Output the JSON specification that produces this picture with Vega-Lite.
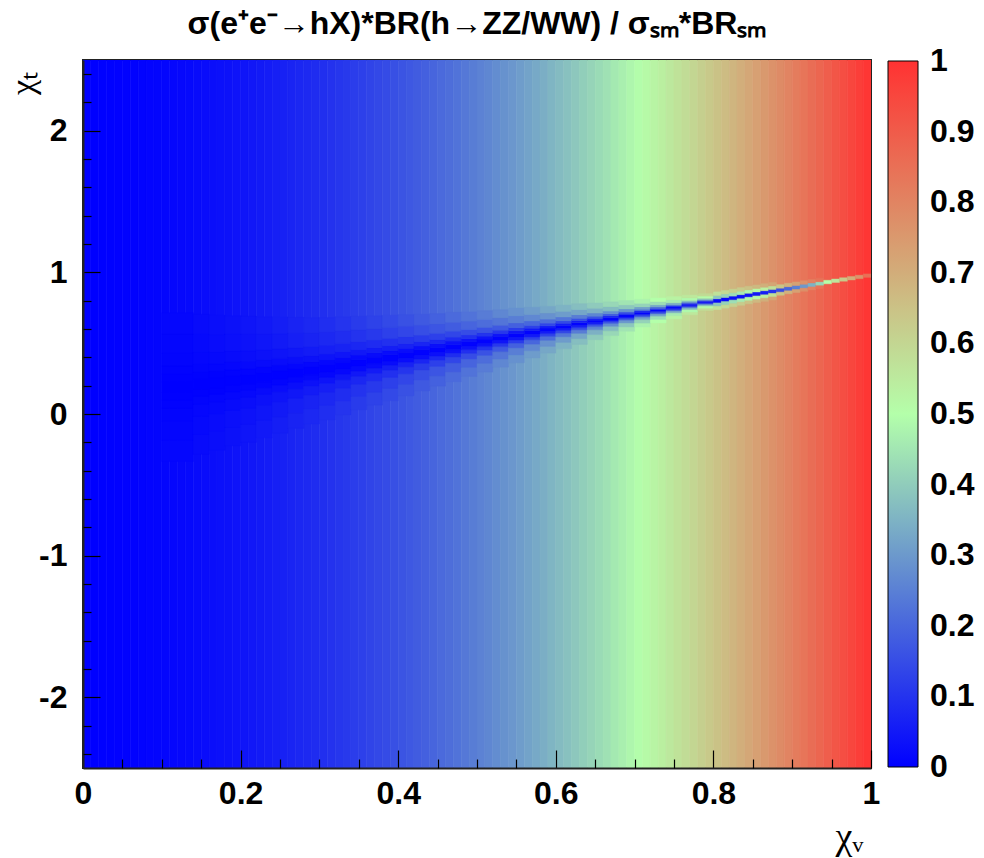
{
"$schema": "https://vega.github.io/schema/vega-lite/v6.json",
"width": 788, "height": 708,
"autosize": {"type": "none"},
"padding": {"left": 83, "top": 60, "right": 113, "bottom": 90},
"background": "white",
"title": {"text": "σ(e⁺e⁻→hX)*BR(h→ZZ/WW) / σₛₘ*BRₛₘ", "font": "Liberation Sans", "fontWeight": "bold", "fontSize": 32, "color": "black", "anchor": "middle", "frame": "group", "baseline": "alphabetic", "offset": 17, "dy": 23},
"datasets": {
"bg": [
{"x0":0.00,"x1":0.01,"v":0.000},{"x0":0.01,"x1":0.02,"v":0.000},{"x0":0.02,"x1":0.03,"v":0.001},{"x0":0.03,"x1":0.04,"v":0.001},{"x0":0.04,"x1":0.05,"v":0.002},
{"x0":0.05,"x1":0.06,"v":0.003},{"x0":0.06,"x1":0.07,"v":0.004},{"x0":0.07,"x1":0.08,"v":0.006},{"x0":0.08,"x1":0.09,"v":0.007},{"x0":0.09,"x1":0.10,"v":0.009},
{"x0":0.10,"x1":0.11,"v":0.011},{"x0":0.11,"x1":0.12,"v":0.013},{"x0":0.12,"x1":0.13,"v":0.016},{"x0":0.13,"x1":0.14,"v":0.018},{"x0":0.14,"x1":0.15,"v":0.021},
{"x0":0.15,"x1":0.16,"v":0.024},{"x0":0.16,"x1":0.17,"v":0.027},{"x0":0.17,"x1":0.18,"v":0.031},{"x0":0.18,"x1":0.19,"v":0.034},{"x0":0.19,"x1":0.20,"v":0.038},
{"x0":0.20,"x1":0.21,"v":0.042},{"x0":0.21,"x1":0.22,"v":0.046},{"x0":0.22,"x1":0.23,"v":0.051},{"x0":0.23,"x1":0.24,"v":0.055},{"x0":0.24,"x1":0.25,"v":0.060},
{"x0":0.25,"x1":0.26,"v":0.065},{"x0":0.26,"x1":0.27,"v":0.070},{"x0":0.27,"x1":0.28,"v":0.076},{"x0":0.28,"x1":0.29,"v":0.081},{"x0":0.29,"x1":0.30,"v":0.087},
{"x0":0.30,"x1":0.31,"v":0.093},{"x0":0.31,"x1":0.32,"v":0.099},{"x0":0.32,"x1":0.33,"v":0.106},{"x0":0.33,"x1":0.34,"v":0.112},{"x0":0.34,"x1":0.35,"v":0.119},
{"x0":0.35,"x1":0.36,"v":0.126},{"x0":0.36,"x1":0.37,"v":0.133},{"x0":0.37,"x1":0.38,"v":0.141},{"x0":0.38,"x1":0.39,"v":0.148},{"x0":0.39,"x1":0.40,"v":0.156},
{"x0":0.40,"x1":0.41,"v":0.164},{"x0":0.41,"x1":0.42,"v":0.172},{"x0":0.42,"x1":0.43,"v":0.181},{"x0":0.43,"x1":0.44,"v":0.189},{"x0":0.44,"x1":0.45,"v":0.198},
{"x0":0.45,"x1":0.46,"v":0.207},{"x0":0.46,"x1":0.47,"v":0.216},{"x0":0.47,"x1":0.48,"v":0.226},{"x0":0.48,"x1":0.49,"v":0.235},{"x0":0.49,"x1":0.50,"v":0.245},
{"x0":0.50,"x1":0.51,"v":0.255},{"x0":0.51,"x1":0.52,"v":0.265},{"x0":0.52,"x1":0.53,"v":0.276},{"x0":0.53,"x1":0.54,"v":0.286},{"x0":0.54,"x1":0.55,"v":0.297},
{"x0":0.55,"x1":0.56,"v":0.308},{"x0":0.56,"x1":0.57,"v":0.319},{"x0":0.57,"x1":0.58,"v":0.331},{"x0":0.58,"x1":0.59,"v":0.342},{"x0":0.59,"x1":0.60,"v":0.354},
{"x0":0.60,"x1":0.61,"v":0.366},{"x0":0.61,"x1":0.62,"v":0.378},{"x0":0.62,"x1":0.63,"v":0.391},{"x0":0.63,"x1":0.64,"v":0.403},{"x0":0.64,"x1":0.65,"v":0.416},
{"x0":0.65,"x1":0.66,"v":0.429},{"x0":0.66,"x1":0.67,"v":0.442},{"x0":0.67,"x1":0.68,"v":0.456},{"x0":0.68,"x1":0.69,"v":0.469},{"x0":0.69,"x1":0.70,"v":0.483},
{"x0":0.70,"x1":0.71,"v":0.497},{"x0":0.71,"x1":0.72,"v":0.511},{"x0":0.72,"x1":0.73,"v":0.526},{"x0":0.73,"x1":0.74,"v":0.540},{"x0":0.74,"x1":0.75,"v":0.555},
{"x0":0.75,"x1":0.76,"v":0.570},{"x0":0.76,"x1":0.77,"v":0.585},{"x0":0.77,"x1":0.78,"v":0.601},{"x0":0.78,"x1":0.79,"v":0.616},{"x0":0.79,"x1":0.80,"v":0.632},
{"x0":0.80,"x1":0.81,"v":0.648},{"x0":0.81,"x1":0.82,"v":0.664},{"x0":0.82,"x1":0.83,"v":0.681},{"x0":0.83,"x1":0.84,"v":0.697},{"x0":0.84,"x1":0.85,"v":0.714},
{"x0":0.85,"x1":0.86,"v":0.731},{"x0":0.86,"x1":0.87,"v":0.748},{"x0":0.87,"x1":0.88,"v":0.766},{"x0":0.88,"x1":0.89,"v":0.783},{"x0":0.89,"x1":0.90,"v":0.801},
{"x0":0.90,"x1":0.91,"v":0.819},{"x0":0.91,"x1":0.92,"v":0.837},{"x0":0.92,"x1":0.93,"v":0.856},{"x0":0.93,"x1":0.94,"v":0.874},{"x0":0.94,"x1":0.95,"v":0.893},
{"x0":0.95,"x1":0.96,"v":0.912},{"x0":0.96,"x1":0.97,"v":0.931},{"x0":0.97,"x1":0.98,"v":0.951},{"x0":0.98,"x1":0.99,"v":0.970},{"x0":0.99,"x1":1.00,"v":0.990}
],
"band": [
{"x0":0.10,"x1":0.14,"y0":-0.335,"y1":-0.185,"v":0.0135},{"x0":0.10,"x1":0.14,"y0":-0.185,"y1":-0.05,"v":0.0118},{"x0":0.10,"x1":0.14,"y0":-0.05,"y1":0.04,"v":0.0089},{"x0":0.10,"x1":0.14,"y0":0.04,"y1":0.1,"v":0.0056},{"x0":0.10,"x1":0.14,"y0":0.1,"y1":0.152,"v":0.0022},{"x0":0.10,"x1":0.14,"y0":0.152,"y1":0.228,"v":0.0003},{"x0":0.10,"x1":0.14,"y0":0.228,"y1":0.28,"v":0.0022},{"x0":0.10,"x1":0.14,"y0":0.28,"y1":0.34,"v":0.0056},{"x0":0.10,"x1":0.14,"y0":0.34,"y1":0.43,"v":0.0089},{"x0":0.10,"x1":0.14,"y0":0.43,"y1":0.565,"v":0.0118},{"x0":0.10,"x1":0.14,"y0":0.565,"y1":0.715,"v":0.0135},
{"x0":0.14,"x1":0.16,"y0":-0.284,"y1":-0.143,"v":0.021},{"x0":0.14,"x1":0.16,"y0":-0.143,"y1":-0.016,"v":0.018},{"x0":0.14,"x1":0.16,"y0":-0.016,"y1":0.069,"v":0.014},{"x0":0.14,"x1":0.16,"y0":0.069,"y1":0.125,"v":0.009},{"x0":0.14,"x1":0.16,"y0":0.125,"y1":0.175,"v":0.003},{"x0":0.14,"x1":0.16,"y0":0.175,"y1":0.245,"v":0.0},{"x0":0.14,"x1":0.16,"y0":0.245,"y1":0.295,"v":0.003},{"x0":0.14,"x1":0.16,"y0":0.295,"y1":0.351,"v":0.009},{"x0":0.14,"x1":0.16,"y0":0.351,"y1":0.436,"v":0.014},{"x0":0.14,"x1":0.16,"y0":0.436,"y1":0.563,"v":0.018},{"x0":0.14,"x1":0.16,"y0":0.563,"y1":0.704,"v":0.021},
{"x0":0.16,"x1":0.18,"y0":-0.256,"y1":-0.12,"v":0.027},{"x0":0.16,"x1":0.18,"y0":-0.12,"y1":0.002,"v":0.024},{"x0":0.16,"x1":0.18,"y0":0.002,"y1":0.084,"v":0.018},{"x0":0.16,"x1":0.18,"y0":0.084,"y1":0.138,"v":0.011},{"x0":0.16,"x1":0.18,"y0":0.138,"y1":0.186,"v":0.004},{"x0":0.16,"x1":0.18,"y0":0.186,"y1":0.254,"v":0.001},{"x0":0.16,"x1":0.18,"y0":0.254,"y1":0.302,"v":0.004},{"x0":0.16,"x1":0.18,"y0":0.302,"y1":0.356,"v":0.011},{"x0":0.16,"x1":0.18,"y0":0.356,"y1":0.438,"v":0.018},{"x0":0.16,"x1":0.18,"y0":0.438,"y1":0.56,"v":0.024},{"x0":0.16,"x1":0.18,"y0":0.56,"y1":0.696,"v":0.027},
{"x0":0.18,"x1":0.20,"y0":-0.224,"y1":-0.093,"v":0.034},{"x0":0.18,"x1":0.20,"y0":-0.093,"y1":0.025,"v":0.030},{"x0":0.18,"x1":0.20,"y0":0.025,"y1":0.104,"v":0.022},{"x0":0.18,"x1":0.20,"y0":0.104,"y1":0.156,"v":0.014},{"x0":0.18,"x1":0.20,"y0":0.156,"y1":0.202,"v":0.005},{"x0":0.18,"x1":0.20,"y0":0.202,"y1":0.268,"v":0.001},{"x0":0.18,"x1":0.20,"y0":0.268,"y1":0.314,"v":0.005},{"x0":0.18,"x1":0.20,"y0":0.314,"y1":0.366,"v":0.014},{"x0":0.18,"x1":0.20,"y0":0.366,"y1":0.445,"v":0.022},{"x0":0.18,"x1":0.20,"y0":0.445,"y1":0.563,"v":0.030},{"x0":0.18,"x1":0.20,"y0":0.563,"y1":0.694,"v":0.034},
{"x0":0.20,"x1":0.22,"y0":-0.2,"y1":-0.073,"v":0.041},{"x0":0.20,"x1":0.22,"y0":-0.073,"y1":0.042,"v":0.036},{"x0":0.20,"x1":0.22,"y0":0.042,"y1":0.118,"v":0.027},{"x0":0.20,"x1":0.22,"y0":0.118,"y1":0.169,"v":0.017},{"x0":0.20,"x1":0.22,"y0":0.169,"y1":0.213,"v":0.007},{"x0":0.20,"x1":0.22,"y0":0.213,"y1":0.277,"v":0.001},{"x0":0.20,"x1":0.22,"y0":0.277,"y1":0.321,"v":0.007},{"x0":0.20,"x1":0.22,"y0":0.321,"y1":0.372,"v":0.017},{"x0":0.20,"x1":0.22,"y0":0.372,"y1":0.448,"v":0.027},{"x0":0.20,"x1":0.22,"y0":0.448,"y1":0.563,"v":0.036},{"x0":0.20,"x1":0.22,"y0":0.563,"y1":0.69,"v":0.041},
{"x0":0.22,"x1":0.24,"y0":-0.167,"y1":-0.045,"v":0.050},{"x0":0.22,"x1":0.24,"y0":-0.045,"y1":0.065,"v":0.043},{"x0":0.22,"x1":0.24,"y0":0.065,"y1":0.138,"v":0.033},{"x0":0.22,"x1":0.24,"y0":0.138,"y1":0.187,"v":0.021},{"x0":0.22,"x1":0.24,"y0":0.187,"y1":0.229,"v":0.008},{"x0":0.22,"x1":0.24,"y0":0.229,"y1":0.291,"v":0.001},{"x0":0.22,"x1":0.24,"y0":0.291,"y1":0.333,"v":0.008},{"x0":0.22,"x1":0.24,"y0":0.333,"y1":0.382,"v":0.021},{"x0":0.22,"x1":0.24,"y0":0.382,"y1":0.455,"v":0.033},{"x0":0.22,"x1":0.24,"y0":0.455,"y1":0.565,"v":0.043},{"x0":0.22,"x1":0.24,"y0":0.565,"y1":0.687,"v":0.050},
{"x0":0.24,"x1":0.26,"y0":-0.135,"y1":-0.018,"v":0.059},{"x0":0.24,"x1":0.26,"y0":-0.018,"y1":0.088,"v":0.051},{"x0":0.24,"x1":0.26,"y0":0.088,"y1":0.158,"v":0.039},{"x0":0.24,"x1":0.26,"y0":0.158,"y1":0.205,"v":0.024},{"x0":0.24,"x1":0.26,"y0":0.205,"y1":0.246,"v":0.009},{"x0":0.24,"x1":0.26,"y0":0.246,"y1":0.304,"v":0.001},{"x0":0.24,"x1":0.26,"y0":0.304,"y1":0.345,"v":0.009},{"x0":0.24,"x1":0.26,"y0":0.345,"y1":0.392,"v":0.024},{"x0":0.24,"x1":0.26,"y0":0.392,"y1":0.462,"v":0.039},{"x0":0.24,"x1":0.26,"y0":0.462,"y1":0.568,"v":0.051},{"x0":0.24,"x1":0.26,"y0":0.568,"y1":0.685,"v":0.059},
{"x0":0.26,"x1":0.28,"y0":-0.102,"y1":0.01,"v":0.069},{"x0":0.26,"x1":0.28,"y0":0.01,"y1":0.111,"v":0.060},{"x0":0.26,"x1":0.28,"y0":0.111,"y1":0.178,"v":0.045},{"x0":0.26,"x1":0.28,"y0":0.178,"y1":0.223,"v":0.028},{"x0":0.26,"x1":0.28,"y0":0.223,"y1":0.262,"v":0.011},{"x0":0.26,"x1":0.28,"y0":0.262,"y1":0.318,"v":0.001},{"x0":0.26,"x1":0.28,"y0":0.318,"y1":0.357,"v":0.011},{"x0":0.26,"x1":0.28,"y0":0.357,"y1":0.402,"v":0.028},{"x0":0.26,"x1":0.28,"y0":0.402,"y1":0.469,"v":0.045},{"x0":0.26,"x1":0.28,"y0":0.469,"y1":0.57,"v":0.060},{"x0":0.26,"x1":0.28,"y0":0.57,"y1":0.682,"v":0.069},
{"x0":0.28,"x1":0.30,"y0":-0.07,"y1":0.037,"v":0.079},{"x0":0.28,"x1":0.30,"y0":0.037,"y1":0.134,"v":0.069},{"x0":0.28,"x1":0.30,"y0":0.134,"y1":0.198,"v":0.052},{"x0":0.28,"x1":0.30,"y0":0.198,"y1":0.241,"v":0.033},{"x0":0.28,"x1":0.30,"y0":0.241,"y1":0.278,"v":0.013},{"x0":0.28,"x1":0.30,"y0":0.278,"y1":0.332,"v":0.002},{"x0":0.28,"x1":0.30,"y0":0.332,"y1":0.369,"v":0.013},{"x0":0.28,"x1":0.30,"y0":0.369,"y1":0.412,"v":0.033},{"x0":0.28,"x1":0.30,"y0":0.412,"y1":0.476,"v":0.052},{"x0":0.28,"x1":0.30,"y0":0.476,"y1":0.573,"v":0.069},{"x0":0.28,"x1":0.30,"y0":0.573,"y1":0.68,"v":0.079},
{"x0":0.30,"x1":0.32,"y0":-0.041,"y1":0.062,"v":0.090},{"x0":0.30,"x1":0.32,"y0":0.062,"y1":0.155,"v":0.079},{"x0":0.30,"x1":0.32,"y0":0.155,"y1":0.217,"v":0.060},{"x0":0.30,"x1":0.32,"y0":0.217,"y1":0.258,"v":0.037},{"x0":0.30,"x1":0.32,"y0":0.258,"y1":0.294,"v":0.014},{"x0":0.30,"x1":0.32,"y0":0.294,"y1":0.346,"v":0.002},{"x0":0.30,"x1":0.32,"y0":0.346,"y1":0.382,"v":0.014},{"x0":0.30,"x1":0.32,"y0":0.382,"y1":0.423,"v":0.037},{"x0":0.30,"x1":0.32,"y0":0.423,"y1":0.485,"v":0.060},{"x0":0.30,"x1":0.32,"y0":0.485,"y1":0.578,"v":0.079},{"x0":0.30,"x1":0.32,"y0":0.578,"y1":0.681,"v":0.090},
{"x0":0.32,"x1":0.34,"y0":-0.007,"y1":0.092,"v":0.102},{"x0":0.32,"x1":0.34,"y0":0.092,"y1":0.182,"v":0.089},{"x0":0.32,"x1":0.34,"y0":0.182,"y1":0.241,"v":0.068},{"x0":0.32,"x1":0.34,"y0":0.241,"y1":0.281,"v":0.042},{"x0":0.32,"x1":0.34,"y0":0.281,"y1":0.315,"v":0.016},{"x0":0.32,"x1":0.34,"y0":0.315,"y1":0.365,"v":0.002},{"x0":0.32,"x1":0.34,"y0":0.365,"y1":0.399,"v":0.016},{"x0":0.32,"x1":0.34,"y0":0.399,"y1":0.439,"v":0.042},{"x0":0.32,"x1":0.34,"y0":0.439,"y1":0.498,"v":0.068},{"x0":0.32,"x1":0.34,"y0":0.498,"y1":0.588,"v":0.089},{"x0":0.32,"x1":0.34,"y0":0.588,"y1":0.687,"v":0.102},
{"x0":0.34,"x1":0.36,"y0":0.031,"y1":0.125,"v":0.115},{"x0":0.34,"x1":0.36,"y0":0.125,"y1":0.21,"v":0.100},{"x0":0.34,"x1":0.36,"y0":0.21,"y1":0.266,"v":0.076},{"x0":0.34,"x1":0.36,"y0":0.266,"y1":0.304,"v":0.048},{"x0":0.34,"x1":0.36,"y0":0.304,"y1":0.336,"v":0.018},{"x0":0.34,"x1":0.36,"y0":0.336,"y1":0.384,"v":0.002},{"x0":0.34,"x1":0.36,"y0":0.384,"y1":0.416,"v":0.018},{"x0":0.34,"x1":0.36,"y0":0.416,"y1":0.454,"v":0.048},{"x0":0.34,"x1":0.36,"y0":0.454,"y1":0.51,"v":0.076},{"x0":0.34,"x1":0.36,"y0":0.51,"y1":0.595,"v":0.100},{"x0":0.34,"x1":0.36,"y0":0.595,"y1":0.689,"v":0.115},
{"x0":0.36,"x1":0.38,"y0":0.063,"y1":0.153,"v":0.129},{"x0":0.36,"x1":0.38,"y0":0.153,"y1":0.234,"v":0.112},{"x0":0.36,"x1":0.38,"y0":0.234,"y1":0.288,"v":0.085},{"x0":0.36,"x1":0.38,"y0":0.288,"y1":0.324,"v":0.053},{"x0":0.36,"x1":0.38,"y0":0.324,"y1":0.355,"v":0.021},{"x0":0.36,"x1":0.38,"y0":0.355,"y1":0.401,"v":0.003},{"x0":0.36,"x1":0.38,"y0":0.401,"y1":0.432,"v":0.021},{"x0":0.36,"x1":0.38,"y0":0.432,"y1":0.468,"v":0.053},{"x0":0.36,"x1":0.38,"y0":0.468,"y1":0.522,"v":0.085},{"x0":0.36,"x1":0.38,"y0":0.522,"y1":0.603,"v":0.112},{"x0":0.36,"x1":0.38,"y0":0.603,"y1":0.693,"v":0.129},
{"x0":0.38,"x1":0.40,"y0":0.095,"y1":0.181,"v":0.143},{"x0":0.38,"x1":0.40,"y0":0.181,"y1":0.258,"v":0.125},{"x0":0.38,"x1":0.40,"y0":0.258,"y1":0.31,"v":0.094},{"x0":0.38,"x1":0.40,"y0":0.31,"y1":0.344,"v":0.059},{"x0":0.38,"x1":0.40,"y0":0.344,"y1":0.374,"v":0.023},{"x0":0.38,"x1":0.40,"y0":0.374,"y1":0.418,"v":0.003},{"x0":0.38,"x1":0.40,"y0":0.418,"y1":0.448,"v":0.023},{"x0":0.38,"x1":0.40,"y0":0.448,"y1":0.482,"v":0.059},{"x0":0.38,"x1":0.40,"y0":0.482,"y1":0.534,"v":0.094},{"x0":0.38,"x1":0.40,"y0":0.534,"y1":0.611,"v":0.125},{"x0":0.38,"x1":0.40,"y0":0.611,"y1":0.697,"v":0.143},
{"x0":0.40,"x1":0.42,"y0":0.128,"y1":0.21,"v":0.158},{"x0":0.40,"x1":0.42,"y0":0.21,"y1":0.284,"v":0.138},{"x0":0.40,"x1":0.42,"y0":0.284,"y1":0.333,"v":0.104},{"x0":0.40,"x1":0.42,"y0":0.333,"y1":0.366,"v":0.066},{"x0":0.40,"x1":0.42,"y0":0.366,"y1":0.394,"v":0.025},{"x0":0.40,"x1":0.42,"y0":0.394,"y1":0.436,"v":0.003},{"x0":0.40,"x1":0.42,"y0":0.436,"y1":0.464,"v":0.025},{"x0":0.40,"x1":0.42,"y0":0.464,"y1":0.497,"v":0.066},{"x0":0.40,"x1":0.42,"y0":0.497,"y1":0.546,"v":0.104},{"x0":0.40,"x1":0.42,"y0":0.546,"y1":0.62,"v":0.138},{"x0":0.40,"x1":0.42,"y0":0.62,"y1":0.702,"v":0.158},
{"x0":0.42,"x1":0.44,"y0":0.164,"y1":0.241,"v":0.174},{"x0":0.42,"x1":0.44,"y0":0.241,"y1":0.311,"v":0.152},{"x0":0.42,"x1":0.44,"y0":0.311,"y1":0.357,"v":0.115},{"x0":0.42,"x1":0.44,"y0":0.357,"y1":0.388,"v":0.072},{"x0":0.42,"x1":0.44,"y0":0.388,"y1":0.415,"v":0.028},{"x0":0.42,"x1":0.44,"y0":0.415,"y1":0.453,"v":0.004},{"x0":0.42,"x1":0.44,"y0":0.453,"y1":0.48,"v":0.028},{"x0":0.42,"x1":0.44,"y0":0.48,"y1":0.511,"v":0.072},{"x0":0.42,"x1":0.44,"y0":0.511,"y1":0.557,"v":0.115},{"x0":0.42,"x1":0.44,"y0":0.557,"y1":0.627,"v":0.152},{"x0":0.42,"x1":0.44,"y0":0.627,"y1":0.704,"v":0.174},
{"x0":0.44,"x1":0.46,"y0":0.197,"y1":0.27,"v":0.190},{"x0":0.44,"x1":0.46,"y0":0.27,"y1":0.336,"v":0.166},{"x0":0.44,"x1":0.46,"y0":0.336,"y1":0.38,"v":0.126},{"x0":0.44,"x1":0.46,"y0":0.38,"y1":0.409,"v":0.079},{"x0":0.44,"x1":0.46,"y0":0.409,"y1":0.435,"v":0.030},{"x0":0.44,"x1":0.46,"y0":0.435,"y1":0.471,"v":0.004},{"x0":0.44,"x1":0.46,"y0":0.471,"y1":0.497,"v":0.030},{"x0":0.44,"x1":0.46,"y0":0.497,"y1":0.526,"v":0.079},{"x0":0.44,"x1":0.46,"y0":0.526,"y1":0.57,"v":0.126},{"x0":0.44,"x1":0.46,"y0":0.57,"y1":0.636,"v":0.166},{"x0":0.44,"x1":0.46,"y0":0.636,"y1":0.709,"v":0.190},
{"x0":0.46,"x1":0.48,"y0":0.228,"y1":0.298,"v":0.208},{"x0":0.46,"x1":0.48,"y0":0.298,"y1":0.361,"v":0.181},{"x0":0.46,"x1":0.48,"y0":0.361,"y1":0.403,"v":0.137},{"x0":0.46,"x1":0.48,"y0":0.403,"y1":0.431,"v":0.086},{"x0":0.46,"x1":0.48,"y0":0.431,"y1":0.455,"v":0.033},{"x0":0.46,"x1":0.48,"y0":0.455,"y1":0.491,"v":0.004},{"x0":0.46,"x1":0.48,"y0":0.491,"y1":0.515,"v":0.033},{"x0":0.46,"x1":0.48,"y0":0.515,"y1":0.543,"v":0.086},{"x0":0.46,"x1":0.48,"y0":0.543,"y1":0.585,"v":0.137},{"x0":0.46,"x1":0.48,"y0":0.585,"y1":0.648,"v":0.181},{"x0":0.46,"x1":0.48,"y0":0.648,"y1":0.718,"v":0.208},
{"x0":0.48,"x1":0.50,"y0":0.265,"y1":0.33,"v":0.226},{"x0":0.48,"x1":0.50,"y0":0.33,"y1":0.389,"v":0.197},{"x0":0.48,"x1":0.50,"y0":0.389,"y1":0.428,"v":0.149},{"x0":0.48,"x1":0.50,"y0":0.428,"y1":0.454,"v":0.094},{"x0":0.48,"x1":0.50,"y0":0.454,"y1":0.477,"v":0.036},{"x0":0.48,"x1":0.50,"y0":0.477,"y1":0.509,"v":0.005},{"x0":0.48,"x1":0.50,"y0":0.509,"y1":0.532,"v":0.036},{"x0":0.48,"x1":0.50,"y0":0.532,"y1":0.558,"v":0.094},{"x0":0.48,"x1":0.50,"y0":0.558,"y1":0.597,"v":0.149},{"x0":0.48,"x1":0.50,"y0":0.597,"y1":0.656,"v":0.197},{"x0":0.48,"x1":0.50,"y0":0.656,"y1":0.721,"v":0.226},
{"x0":0.50,"x1":0.52,"y0":0.296,"y1":0.358,"v":0.244},{"x0":0.50,"x1":0.52,"y0":0.358,"y1":0.414,"v":0.213},{"x0":0.50,"x1":0.52,"y0":0.414,"y1":0.451,"v":0.161},{"x0":0.50,"x1":0.52,"y0":0.451,"y1":0.476,"v":0.101},{"x0":0.50,"x1":0.52,"y0":0.476,"y1":0.497,"v":0.039},{"x0":0.50,"x1":0.52,"y0":0.497,"y1":0.529,"v":0.005},{"x0":0.50,"x1":0.52,"y0":0.529,"y1":0.55,"v":0.039},{"x0":0.50,"x1":0.52,"y0":0.55,"y1":0.575,"v":0.101},{"x0":0.50,"x1":0.52,"y0":0.575,"y1":0.612,"v":0.161},{"x0":0.50,"x1":0.52,"y0":0.612,"y1":0.668,"v":0.213},{"x0":0.50,"x1":0.52,"y0":0.668,"y1":0.73,"v":0.244},
{"x0":0.52,"x1":0.54,"y0":0.331,"y1":0.389,"v":0.264},{"x0":0.52,"x1":0.54,"y0":0.389,"y1":0.441,"v":0.230},{"x0":0.52,"x1":0.54,"y0":0.441,"y1":0.476,"v":0.174},{"x0":0.52,"x1":0.54,"y0":0.476,"y1":0.499,"v":0.110},{"x0":0.52,"x1":0.54,"y0":0.499,"y1":0.519,"v":0.042},{"x0":0.52,"x1":0.54,"y0":0.519,"y1":0.549,"v":0.006},{"x0":0.52,"x1":0.54,"y0":0.549,"y1":0.569,"v":0.042},{"x0":0.52,"x1":0.54,"y0":0.569,"y1":0.592,"v":0.110},{"x0":0.52,"x1":0.54,"y0":0.592,"y1":0.627,"v":0.174},{"x0":0.52,"x1":0.54,"y0":0.627,"y1":0.679,"v":0.230},{"x0":0.52,"x1":0.54,"y0":0.679,"y1":0.737,"v":0.264},
{"x0":0.54,"x1":0.56,"y0":0.362,"y1":0.417,"v":0.284},{"x0":0.54,"x1":0.56,"y0":0.417,"y1":0.467,"v":0.248},{"x0":0.54,"x1":0.56,"y0":0.467,"y1":0.5,"v":0.188},{"x0":0.54,"x1":0.56,"y0":0.5,"y1":0.522,"v":0.118},{"x0":0.54,"x1":0.56,"y0":0.522,"y1":0.541,"v":0.045},{"x0":0.54,"x1":0.56,"y0":0.541,"y1":0.569,"v":0.006},{"x0":0.54,"x1":0.56,"y0":0.569,"y1":0.588,"v":0.045},{"x0":0.54,"x1":0.56,"y0":0.588,"y1":0.61,"v":0.118},{"x0":0.54,"x1":0.56,"y0":0.61,"y1":0.643,"v":0.188},{"x0":0.54,"x1":0.56,"y0":0.643,"y1":0.693,"v":0.248},{"x0":0.54,"x1":0.56,"y0":0.693,"y1":0.748,"v":0.284},
{"x0":0.56,"x1":0.58,"y0":0.396,"y1":0.447,"v":0.305},{"x0":0.56,"x1":0.58,"y0":0.447,"y1":0.493,"v":0.266},{"x0":0.56,"x1":0.58,"y0":0.493,"y1":0.524,"v":0.201},{"x0":0.56,"x1":0.58,"y0":0.524,"y1":0.544,"v":0.127},{"x0":0.56,"x1":0.58,"y0":0.544,"y1":0.562,"v":0.049},{"x0":0.56,"x1":0.58,"y0":0.562,"y1":0.588,"v":0.006},{"x0":0.56,"x1":0.58,"y0":0.588,"y1":0.606,"v":0.049},{"x0":0.56,"x1":0.58,"y0":0.606,"y1":0.626,"v":0.127},{"x0":0.56,"x1":0.58,"y0":0.626,"y1":0.657,"v":0.201},{"x0":0.56,"x1":0.58,"y0":0.657,"y1":0.703,"v":0.266},{"x0":0.56,"x1":0.58,"y0":0.703,"y1":0.754,"v":0.305},
{"x0":0.58,"x1":0.60,"y0":0.43,"y1":0.477,"v":0.327},{"x0":0.58,"x1":0.60,"y0":0.477,"y1":0.52,"v":0.285},{"x0":0.58,"x1":0.60,"y0":0.52,"y1":0.548,"v":0.216},{"x0":0.58,"x1":0.60,"y0":0.548,"y1":0.567,"v":0.136},{"x0":0.58,"x1":0.60,"y0":0.567,"y1":0.583,"v":0.052},{"x0":0.58,"x1":0.60,"y0":0.583,"y1":0.607,"v":0.007},{"x0":0.58,"x1":0.60,"y0":0.607,"y1":0.623,"v":0.052},{"x0":0.58,"x1":0.60,"y0":0.623,"y1":0.642,"v":0.136},{"x0":0.58,"x1":0.60,"y0":0.642,"y1":0.67,"v":0.216},{"x0":0.58,"x1":0.60,"y0":0.67,"y1":0.713,"v":0.285},{"x0":0.58,"x1":0.60,"y0":0.713,"y1":0.76,"v":0.327},
{"x0":0.60,"x1":0.62,"y0":0.461,"y1":0.505,"v":0.350},{"x0":0.60,"x1":0.62,"y0":0.505,"y1":0.545,"v":0.305},{"x0":0.60,"x1":0.62,"y0":0.545,"y1":0.571,"v":0.231},{"x0":0.60,"x1":0.62,"y0":0.571,"y1":0.589,"v":0.145},{"x0":0.60,"x1":0.62,"y0":0.589,"y1":0.604,"v":0.056},{"x0":0.60,"x1":0.62,"y0":0.604,"y1":0.626,"v":0.007},{"x0":0.60,"x1":0.62,"y0":0.626,"y1":0.641,"v":0.056},{"x0":0.60,"x1":0.62,"y0":0.641,"y1":0.659,"v":0.145},{"x0":0.60,"x1":0.62,"y0":0.659,"y1":0.685,"v":0.231},{"x0":0.60,"x1":0.62,"y0":0.685,"y1":0.725,"v":0.305},{"x0":0.60,"x1":0.62,"y0":0.725,"y1":0.769,"v":0.350},
{"x0":0.62,"x1":0.64,"y0":0.491,"y1":0.532,"v":0.373},{"x0":0.62,"x1":0.64,"y0":0.532,"y1":0.569,"v":0.325},{"x0":0.62,"x1":0.64,"y0":0.569,"y1":0.594,"v":0.246},{"x0":0.62,"x1":0.64,"y0":0.594,"y1":0.61,"v":0.155},{"x0":0.62,"x1":0.64,"y0":0.61,"y1":0.625,"v":0.060},{"x0":0.62,"x1":0.64,"y0":0.625,"y1":0.645,"v":0.008},{"x0":0.62,"x1":0.64,"y0":0.645,"y1":0.66,"v":0.060},{"x0":0.62,"x1":0.64,"y0":0.66,"y1":0.676,"v":0.155},{"x0":0.62,"x1":0.64,"y0":0.676,"y1":0.701,"v":0.246},{"x0":0.62,"x1":0.64,"y0":0.701,"y1":0.738,"v":0.325},{"x0":0.62,"x1":0.64,"y0":0.738,"y1":0.779,"v":0.373},
{"x0":0.64,"x1":0.66,"y0":0.524,"y1":0.561,"v":0.397},{"x0":0.64,"x1":0.66,"y0":0.561,"y1":0.595,"v":0.346},{"x0":0.64,"x1":0.66,"y0":0.595,"y1":0.617,"v":0.262},{"x0":0.64,"x1":0.66,"y0":0.617,"y1":0.632,"v":0.165},{"x0":0.64,"x1":0.66,"y0":0.632,"y1":0.645,"v":0.063},{"x0":0.64,"x1":0.66,"y0":0.645,"y1":0.663,"v":0.008},{"x0":0.64,"x1":0.66,"y0":0.663,"y1":0.676,"v":0.063},{"x0":0.64,"x1":0.66,"y0":0.676,"y1":0.691,"v":0.165},{"x0":0.64,"x1":0.66,"y0":0.691,"y1":0.713,"v":0.262},{"x0":0.64,"x1":0.66,"y0":0.713,"y1":0.747,"v":0.346},{"x0":0.64,"x1":0.66,"y0":0.747,"y1":0.784,"v":0.397},
{"x0":0.66,"x1":0.68,"y0":0.554,"y1":0.588,"v":0.422},{"x0":0.66,"x1":0.68,"y0":0.588,"y1":0.619,"v":0.368},{"x0":0.66,"x1":0.68,"y0":0.619,"y1":0.639,"v":0.278},{"x0":0.66,"x1":0.68,"y0":0.639,"y1":0.653,"v":0.175},{"x0":0.66,"x1":0.68,"y0":0.653,"y1":0.664,"v":0.067},{"x0":0.66,"x1":0.68,"y0":0.664,"y1":0.682,"v":0.009},{"x0":0.66,"x1":0.68,"y0":0.682,"y1":0.693,"v":0.067},{"x0":0.66,"x1":0.68,"y0":0.693,"y1":0.707,"v":0.175},{"x0":0.66,"x1":0.68,"y0":0.707,"y1":0.727,"v":0.278},{"x0":0.66,"x1":0.68,"y0":0.727,"y1":0.758,"v":0.368},{"x0":0.66,"x1":0.68,"y0":0.758,"y1":0.792,"v":0.422},
{"x0":0.68,"x1":0.70,"y0":0.584,"y1":0.615,"v":0.448},{"x0":0.68,"x1":0.70,"y0":0.615,"y1":0.643,"v":0.390},{"x0":0.68,"x1":0.70,"y0":0.643,"y1":0.662,"v":0.295},{"x0":0.68,"x1":0.70,"y0":0.662,"y1":0.674,"v":0.186},{"x0":0.68,"x1":0.70,"y0":0.674,"y1":0.685,"v":0.071},{"x0":0.68,"x1":0.70,"y0":0.685,"y1":0.701,"v":0.010},{"x0":0.68,"x1":0.70,"y0":0.701,"y1":0.712,"v":0.071},{"x0":0.68,"x1":0.70,"y0":0.712,"y1":0.724,"v":0.186},{"x0":0.68,"x1":0.70,"y0":0.724,"y1":0.743,"v":0.295},{"x0":0.68,"x1":0.70,"y0":0.743,"y1":0.771,"v":0.390},{"x0":0.68,"x1":0.70,"y0":0.771,"y1":0.802,"v":0.448},
{"x0":0.70,"x1":0.72,"y0":0.614,"y1":0.642,"v":0.474},{"x0":0.70,"x1":0.72,"y0":0.642,"y1":0.667,"v":0.413},{"x0":0.70,"x1":0.72,"y0":0.667,"y1":0.684,"v":0.313},{"x0":0.70,"x1":0.72,"y0":0.684,"y1":0.695,"v":0.197},{"x0":0.70,"x1":0.72,"y0":0.695,"y1":0.705,"v":0.076},{"x0":0.70,"x1":0.72,"y0":0.705,"y1":0.719,"v":0.010},{"x0":0.70,"x1":0.72,"y0":0.719,"y1":0.729,"v":0.076},{"x0":0.70,"x1":0.72,"y0":0.729,"y1":0.74,"v":0.197},{"x0":0.70,"x1":0.72,"y0":0.74,"y1":0.757,"v":0.313},{"x0":0.70,"x1":0.72,"y0":0.757,"y1":0.782,"v":0.413},{"x0":0.70,"x1":0.72,"y0":0.782,"y1":0.81,"v":0.474},
{"x0":0.72,"x1":0.74,"y0":0.643,"y1":0.668,"v":0.501},{"x0":0.72,"x1":0.74,"y0":0.668,"y1":0.691,"v":0.437},{"x0":0.72,"x1":0.74,"y0":0.691,"y1":0.706,"v":0.330},{"x0":0.72,"x1":0.74,"y0":0.706,"y1":0.716,"v":0.208},{"x0":0.72,"x1":0.74,"y0":0.716,"y1":0.725,"v":0.080},{"x0":0.72,"x1":0.74,"y0":0.725,"y1":0.737,"v":0.011},{"x0":0.72,"x1":0.74,"y0":0.737,"y1":0.746,"v":0.080},{"x0":0.72,"x1":0.74,"y0":0.746,"y1":0.756,"v":0.208},{"x0":0.72,"x1":0.74,"y0":0.756,"y1":0.771,"v":0.330},{"x0":0.72,"x1":0.74,"y0":0.771,"y1":0.794,"v":0.437},{"x0":0.72,"x1":0.74,"y0":0.794,"y1":0.819,"v":0.501},
{"x0":0.74,"x1":0.76,"y0":0.671,"y1":0.694,"v":0.529},{"x0":0.74,"x1":0.76,"y0":0.694,"y1":0.714,"v":0.461},{"x0":0.74,"x1":0.76,"y0":0.714,"y1":0.727,"v":0.349},{"x0":0.74,"x1":0.76,"y0":0.727,"y1":0.736,"v":0.219},{"x0":0.74,"x1":0.76,"y0":0.736,"y1":0.744,"v":0.084},{"x0":0.74,"x1":0.76,"y0":0.744,"y1":0.756,"v":0.011},{"x0":0.74,"x1":0.76,"y0":0.756,"y1":0.764,"v":0.084},{"x0":0.74,"x1":0.76,"y0":0.764,"y1":0.773,"v":0.219},{"x0":0.74,"x1":0.76,"y0":0.773,"y1":0.786,"v":0.349},{"x0":0.74,"x1":0.76,"y0":0.786,"y1":0.806,"v":0.461},{"x0":0.74,"x1":0.76,"y0":0.806,"y1":0.829,"v":0.529},
{"x0":0.76,"x1":0.78,"y0":0.7,"y1":0.72,"v":0.557},{"x0":0.76,"x1":0.78,"y0":0.72,"y1":0.738,"v":0.486},{"x0":0.76,"x1":0.78,"y0":0.738,"y1":0.75,"v":0.368},{"x0":0.76,"x1":0.78,"y0":0.75,"y1":0.758,"v":0.231},{"x0":0.76,"x1":0.78,"y0":0.758,"y1":0.765,"v":0.089},{"x0":0.76,"x1":0.78,"y0":0.765,"y1":0.775,"v":0.012},{"x0":0.76,"x1":0.78,"y0":0.775,"y1":0.782,"v":0.089},{"x0":0.76,"x1":0.78,"y0":0.782,"y1":0.79,"v":0.231},{"x0":0.76,"x1":0.78,"y0":0.79,"y1":0.802,"v":0.368},{"x0":0.76,"x1":0.78,"y0":0.802,"y1":0.82,"v":0.486},{"x0":0.76,"x1":0.78,"y0":0.82,"y1":0.84,"v":0.557},
{"x0":0.78,"x1":0.80,"y0":0.73,"y1":0.747,"v":0.587},{"x0":0.78,"x1":0.80,"y0":0.747,"y1":0.763,"v":0.512},{"x0":0.78,"x1":0.80,"y0":0.763,"y1":0.773,"v":0.387},{"x0":0.78,"x1":0.80,"y0":0.773,"y1":0.78,"v":0.243},{"x0":0.78,"x1":0.80,"y0":0.78,"y1":0.786,"v":0.094},{"x0":0.78,"x1":0.80,"y0":0.786,"y1":0.794,"v":0.012},{"x0":0.78,"x1":0.80,"y0":0.794,"y1":0.8,"v":0.094},{"x0":0.78,"x1":0.80,"y0":0.8,"y1":0.807,"v":0.243},{"x0":0.78,"x1":0.80,"y0":0.807,"y1":0.817,"v":0.387},{"x0":0.78,"x1":0.80,"y0":0.817,"y1":0.833,"v":0.512},{"x0":0.78,"x1":0.80,"y0":0.833,"y1":0.85,"v":0.587},
{"x0":0.80,"x1":0.81,"y0":0.7375,"y1":0.7625,"v":0.570},{"x0":0.80,"x1":0.81,"y0":0.7625,"y1":0.7875,"v":0.389},{"x0":0.80,"x1":0.81,"y0":0.7875,"y1":0.8125,"v":0.02},{"x0":0.80,"x1":0.81,"y0":0.8125,"y1":0.8375,"v":0.389},{"x0":0.80,"x1":0.81,"y0":0.8375,"y1":0.8625,"v":0.570},
{"x0":0.81,"x1":0.82,"y0":0.7475,"y1":0.7725,"v":0.591},{"x0":0.81,"x1":0.82,"y0":0.7725,"y1":0.7975,"v":0.412},{"x0":0.81,"x1":0.82,"y0":0.7975,"y1":0.8225,"v":0.02},{"x0":0.81,"x1":0.82,"y0":0.8225,"y1":0.8475,"v":0.412},{"x0":0.81,"x1":0.82,"y0":0.8475,"y1":0.8725,"v":0.591},
{"x0":0.82,"x1":0.83,"y0":0.7575,"y1":0.7825,"v":0.613},{"x0":0.82,"x1":0.83,"y0":0.7825,"y1":0.8075,"v":0.436},{"x0":0.82,"x1":0.83,"y0":0.8075,"y1":0.8325,"v":0.03},{"x0":0.82,"x1":0.83,"y0":0.8325,"y1":0.8575,"v":0.436},{"x0":0.82,"x1":0.83,"y0":0.8575,"y1":0.8825,"v":0.613},
{"x0":0.83,"x1":0.84,"y0":0.7675,"y1":0.7925,"v":0.627},{"x0":0.83,"x1":0.84,"y0":0.7925,"y1":0.8175,"v":0.460},{"x0":0.83,"x1":0.84,"y0":0.8175,"y1":0.8425,"v":0.03},{"x0":0.83,"x1":0.84,"y0":0.8425,"y1":0.8675,"v":0.460},{"x0":0.83,"x1":0.84,"y0":0.8675,"y1":0.8925,"v":0.627},
{"x0":0.84,"x1":0.85,"y0":0.7775,"y1":0.8025,"v":0.650},{"x0":0.84,"x1":0.85,"y0":0.8025,"y1":0.8275,"v":0.486},{"x0":0.84,"x1":0.85,"y0":0.8275,"y1":0.8525,"v":0.04},{"x0":0.84,"x1":0.85,"y0":0.8525,"y1":0.8775,"v":0.486},{"x0":0.84,"x1":0.85,"y0":0.8775,"y1":0.9025,"v":0.650},
{"x0":0.85,"x1":0.86,"y0":0.7865,"y1":0.8115,"v":0.673},{"x0":0.85,"x1":0.86,"y0":0.8115,"y1":0.8365,"v":0.512},{"x0":0.85,"x1":0.86,"y0":0.8365,"y1":0.8615,"v":0.05},{"x0":0.85,"x1":0.86,"y0":0.8615,"y1":0.8865,"v":0.512},{"x0":0.85,"x1":0.86,"y0":0.8865,"y1":0.9115,"v":0.673},
{"x0":0.86,"x1":0.87,"y0":0.7955,"y1":0.8205,"v":0.696},{"x0":0.86,"x1":0.87,"y0":0.8205,"y1":0.8455,"v":0.539},{"x0":0.86,"x1":0.87,"y0":0.8455,"y1":0.8705,"v":0.06},{"x0":0.86,"x1":0.87,"y0":0.8705,"y1":0.8955,"v":0.539},{"x0":0.86,"x1":0.87,"y0":0.8955,"y1":0.9205,"v":0.696},
{"x0":0.87,"x1":0.88,"y0":0.8045,"y1":0.8295,"v":0.720},{"x0":0.87,"x1":0.88,"y0":0.8295,"y1":0.8545,"v":0.575},{"x0":0.87,"x1":0.88,"y0":0.8545,"y1":0.8795,"v":0.10},{"x0":0.87,"x1":0.88,"y0":0.8795,"y1":0.9045,"v":0.575},{"x0":0.87,"x1":0.88,"y0":0.9045,"y1":0.9295,"v":0.720},
{"x0":0.88,"x1":0.89,"y0":0.8385,"y1":0.8635,"v":0.642},{"x0":0.88,"x1":0.89,"y0":0.8635,"y1":0.8885,"v":0.15},{"x0":0.88,"x1":0.89,"y0":0.8885,"y1":0.9135,"v":0.642},
{"x0":0.89,"x1":0.90,"y0":0.8485,"y1":0.8735,"v":0.689},{"x0":0.89,"x1":0.90,"y0":0.8735,"y1":0.8985,"v":0.20},{"x0":0.89,"x1":0.90,"y0":0.8985,"y1":0.9235,"v":0.689},
{"x0":0.90,"x1":0.91,"y0":0.8575,"y1":0.8825,"v":0.729},{"x0":0.90,"x1":0.91,"y0":0.8825,"y1":0.9075,"v":0.25},{"x0":0.90,"x1":0.91,"y0":0.9075,"y1":0.9325,"v":0.729},
{"x0":0.91,"x1":0.92,"y0":0.8665,"y1":0.8915,"v":0.770},{"x0":0.91,"x1":0.92,"y0":0.8915,"y1":0.9165,"v":0.30},{"x0":0.91,"x1":0.92,"y0":0.9165,"y1":0.9415,"v":0.770},
{"x0":0.92,"x1":0.93,"y0":0.8755,"y1":0.9005,"v":0.805},{"x0":0.92,"x1":0.93,"y0":0.9005,"y1":0.9255,"v":0.35},{"x0":0.92,"x1":0.93,"y0":0.9255,"y1":0.9505,"v":0.805},
{"x0":0.93,"x1":0.94,"y0":0.8845,"y1":0.9095,"v":0.839},{"x0":0.93,"x1":0.94,"y0":0.9095,"y1":0.9345,"v":0.42},{"x0":0.93,"x1":0.94,"y0":0.9345,"y1":0.9595,"v":0.839},
{"x0":0.94,"x1":0.95,"y0":0.9195,"y1":0.9445,"v":0.50},
{"x0":0.95,"x1":0.96,"y0":0.9285,"y1":0.9535,"v":0.56},
{"x0":0.96,"x1":0.97,"y0":0.9375,"y1":0.9625,"v":0.63},
{"x0":0.97,"x1":0.98,"y0":0.9465,"y1":0.9715,"v":0.70},
{"x0":0.98,"x1":0.99,"y0":0.9555,"y1":0.9805,"v":0.76},
{"x0":0.99,"x1":1.00,"y0":0.9645,"y1":0.9895,"v":0.85}
]
},
"layer": [
{
"data": {"name": "bg"},
"mark": {"type": "rect", "strokeWidth": 0.6, "stroke": {"expr": "scale('color', datum.v)"}, "clip": true},
"encoding": {
"x": {"field": "x0", "type": "quantitative", "scale": {"domain": [0, 1], "nice": false, "zero": false},
 "axis": {"orient": "bottom", "values": [0, 0.2, 0.4, 0.6, 0.8, 1], "labelExpr": "'' + datum.value", "tickSize": -18, "tickColor": "black", "tickWidth": 1.2, "labelFont": "Liberation Sans", "labelFontWeight": "bold", "labelFontSize": 32, "labelColor": "black", "labelPadding": 28, "labelFlush": false, "domain": true, "domainColor": "#222", "domainWidth": 2, "grid": false, "zindex": 1,
  "title": "χᵥ", "titleFont": "Liberation Serif", "titleFontWeight": "normal", "titleFontSize": 38, "titleColor": "black", "titleAlign": "center", "titleBaseline": "alphabetic", "titleX": 766, "titleY": 80}},
"x2": {"field": "x1"},
"y": {"datum": -2.5, "type": "quantitative", "scale": {"domain": [-2.5, 2.5], "nice": false, "zero": false},
 "axis": {"orient": "left", "values": [-2, -1, 0, 1, 2], "labelExpr": "'' + datum.value", "tickSize": -17, "tickColor": "black", "tickWidth": 1.2, "labelFont": "Liberation Sans", "labelFontWeight": "bold", "labelFontSize": 32, "labelColor": "black", "labelPadding": 33, "labelFlush": false, "domain": true, "domainColor": "#222", "domainWidth": 2, "grid": false, "zindex": 1,
  "title": "χₜ", "titleFont": "Liberation Serif", "titleFontWeight": "normal", "titleFontSize": 34, "titleColor": "black", "titleAlign": "center", "titleBaseline": "alphabetic", "titleAngle": -90, "titleX": -50, "titleY": 23}},
"y2": {"datum": 2.5},
"color": {"field": "v", "type": "quantitative", "scale": {"domain": [0, 0.5, 1], "range": ["#0000ff", "#b4ffaa", "#ff3232"], "interpolate": "rgb", "clamp": true, "nice": false, "zero": false},
 "legend": {"type": "gradient", "orient": "none", "legendX": 805, "legendY": 1, "direction": "vertical", "gradientLength": 706, "gradientThickness": 30, "values": [0, 0.1, 0.2, 0.3, 0.4, 0.5, 0.6, 0.7, 0.8, 0.9, 1], "labelExpr": "'' + datum.value", "title": null, "padding": 0, "labelFont": "Liberation Sans", "labelFontWeight": "bold", "labelFontSize": 32, "labelColor": "black", "labelOffset": 12, "labelOverlap": false, "labelBaseline": "middle", "gradientStrokeColor": "black", "gradientStrokeWidth": 1,
  "encode": {"labels": {"update": {"baseline": {"value": "middle"}}}}}}
}
},
{
"data": {"name": "band"},
"mark": {"type": "rect", "strokeWidth": 0.4, "stroke": {"expr": "scale('color', datum.v)"}, "clip": true},
"encoding": {
"x": {"field": "x0", "type": "quantitative", "scale": {"domain": [0, 1], "nice": false, "zero": false},
 "axis": {"orient": "bottom", "values": [0.05, 0.1, 0.15, 0.25, 0.3, 0.35, 0.45, 0.5, 0.55, 0.65, 0.7, 0.75, 0.85, 0.9, 0.95], "labels": false, "tickSize": -9, "tickColor": "black", "tickWidth": 1.2, "domain": false, "grid": false, "title": null, "zindex": 1}},
"x2": {"field": "x1"},
"y": {"field": "y0", "type": "quantitative", "scale": {"domain": [-2.5, 2.5], "nice": false, "zero": false},
 "axis": {"orient": "left", "values": [-2.4, -2.2, -1.8, -1.6, -1.4, -1.2, -0.8, -0.6, -0.4, -0.2, 0.2, 0.4, 0.6, 0.8, 1.2, 1.4, 1.6, 1.8, 2.2, 2.4], "labels": false, "tickSize": -8, "tickColor": "black", "tickWidth": 1.2, "domain": false, "grid": false, "title": null, "zindex": 1}},
"y2": {"field": "y1"},
"color": {"field": "v", "type": "quantitative", "scale": {"domain": [0, 0.5, 1], "range": ["#0000ff", "#b4ffaa", "#ff3232"], "interpolate": "rgb", "clamp": true, "nice": false, "zero": false}}
}
}
],
"resolve": {"axis": {"x": "independent", "y": "independent"}},
"config": {"view": {"stroke": "#222", "strokeWidth": 2}, "font": "Liberation Sans"}
}
